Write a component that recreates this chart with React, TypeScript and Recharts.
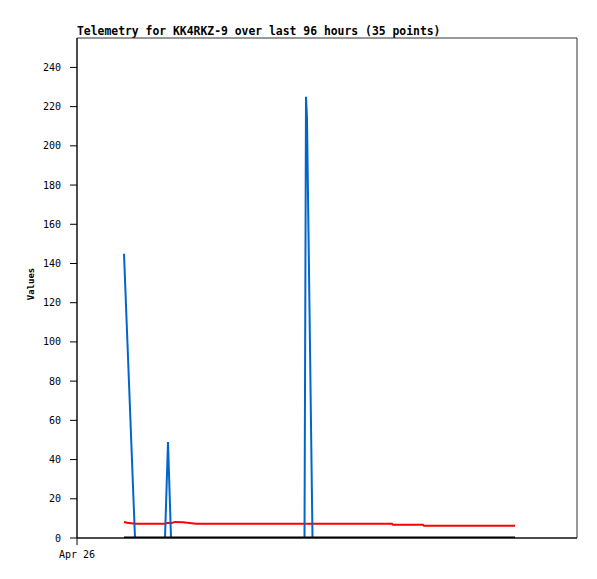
import React from 'react';
import { LineChart, Line, XAxis, YAxis, ReferenceArea } from 'recharts';

// hours since Apr 26 00:00
const blueHours = [11.28, 13.92, 21.12, 21.84, 22.56, 54.6, 54.96, 55.2, 56.52, 105.12];
const blueValues = [145, 0, 0, 49, 0, 0, 225, 214, 0, 0];

const redHours = [11.28, 12.0, 13.92, 21.12, 21.84, 22.56, 23.52, 25.44, 28.56, 75.6, 75.84, 83.04, 83.28, 105.12];
const redValues = [8.2, 7.8, 7.3, 7.3, 7.8, 7.5, 8.2, 8.0, 7.3, 7.3, 6.8, 6.8, 6.3, 6.3];

const blackHours = [11.28, 105.12];
const blackValues = [0, 0];

const yTicks = [0, 20, 40, 60, 80, 100, 120, 140, 160, 180, 200, 220, 240];
const xTicks = [0];
const xTickLabels = ['Apr 26'];

const zip = (hs: number[], vs: number[]) => hs.map((h, i) => ({ h, v: vs[i] }));
const blueData = zip(blueHours, blueValues);
const redData = zip(redHours, redValues);
const blackData = zip(blackHours, blackValues);

const mono = '"DejaVu Sans Mono", "Liberation Mono", monospace';

export default function App() {
  return (
    <div style={{ position: 'absolute', left: 0, top: 0, width: 597, height: 579, background: '#fff' }}>
      <div
        style={{
          position: 'absolute',
          left: 77,
          top: 24,
          fontFamily: mono,
          fontWeight: 'bold',
          fontSize: '11.4px',
          lineHeight: '14px',
          whiteSpace: 'nowrap',
          color: '#000',
        }}
      >
        Telemetry for KK4RKZ-9 over last 96 hours (35 points)
      </div>
      <div
        style={{
          position: 'absolute',
          left: 31,
          top: 284,
          transform: 'translate(-50%, -50%) rotate(-90deg)',
          fontFamily: mono,
          fontWeight: 'bold',
          fontSize: '9px',
          lineHeight: '10px',
          whiteSpace: 'nowrap',
          color: '#000',
        }}
      >
        Values
      </div>
      <LineChart width={597} height={579} margin={{ top: 38, right: 20, bottom: 11, left: 0 }}>
        <XAxis
          type="number"
          dataKey="h"
          domain={[0, 120]}
          ticks={xTicks}
          tickFormatter={(v: number) => xTickLabels[xTicks.indexOf(v)] ?? ''}
          height={30}
          tickSize={7}
          tickMargin={6}
          stroke="#000"
          tick={{ fill: '#000', fontFamily: mono, fontSize: 10 }}
          allowDataOverflow
        />
        <YAxis
          type="number"
          domain={[0, 255]}
          ticks={yTicks}
          width={77}
          tickSize={7}
          tickMargin={9}
          stroke="#000"
          tick={{ fill: '#000', fontFamily: mono, fontSize: 10 }}
          allowDataOverflow
        />
        <ReferenceArea x1={0} x2={120} y1={0} y2={255} fill="none" stroke="#333" strokeWidth={1} />
        <Line data={redData} dataKey="v" type="linear" stroke="#ff0000" strokeWidth={2} dot={false} isAnimationActive={false} />
        <Line data={blueData} dataKey="v" type="linear" stroke="#0066cc" strokeWidth={2} dot={false} isAnimationActive={false} />
        <Line data={blackData} dataKey="v" type="linear" stroke="#000" strokeWidth={3} dot={false} isAnimationActive={false} />
      </LineChart>
    </div>
  );
}
